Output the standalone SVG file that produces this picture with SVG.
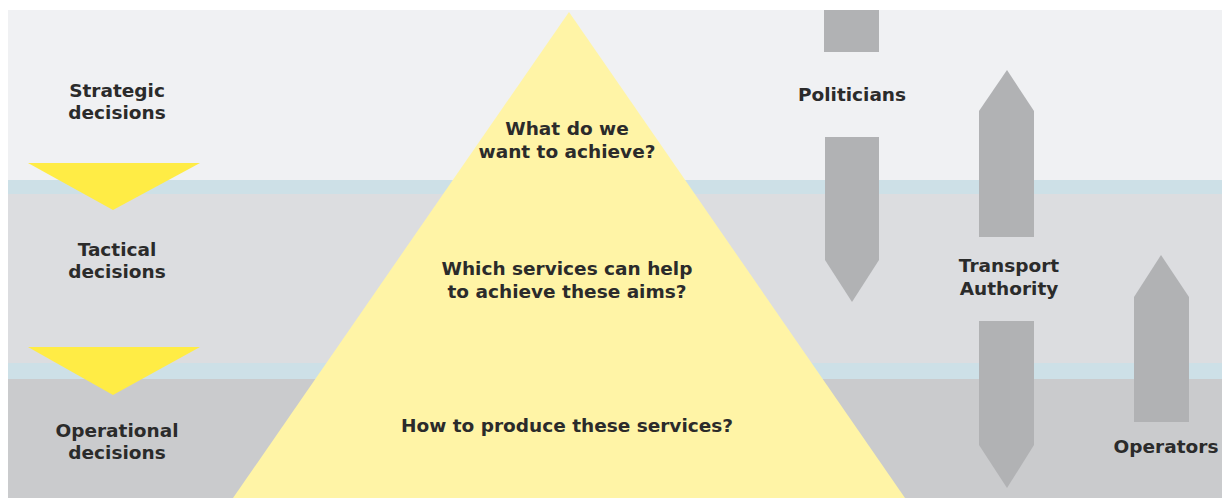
<svg xmlns="http://www.w3.org/2000/svg" width="1223" height="498" viewBox="0 0 1223 498">
<style>
.t{font-family:"DejaVu Sans","Verdana",sans-serif;font-weight:bold;font-size:18.5px;fill:#2b2b2b;text-anchor:middle}
.arr{fill:#b1b2b4}
.tri{fill:#ffec45}
</style>
<rect x="0" y="0" width="1223" height="498" fill="#ffffff"/>
<g id="bands">
<rect x="8" y="10" width="1214" height="171" fill="#f0f1f3"/>
<rect x="8" y="180" width="1214" height="15" fill="#cde0e7"/>
<rect x="8" y="194" width="1214" height="170" fill="#dcdde0"/>
<rect x="8" y="363" width="1214" height="17" fill="#cde0e7"/>
<rect x="8" y="379" width="1214" height="119" fill="#cacbcd"/>
</g>
<g id="pyramid">
<polygon points="569,12 905,498 233,498" fill="#fff4a6"/>
<text class="t" x="567" y="135">What do we</text>
<text class="t" x="567" y="158">want to achieve?</text>
<text class="t" x="567" y="275">Which services can help</text>
<text class="t" x="567" y="298">to achieve these aims?</text>
<text class="t" x="567" y="432">How to produce these services?</text>
</g>
<g id="levels">
<text class="t" x="117" y="97">Strategic</text>
<text class="t" x="117" y="119">decisions</text>
<text class="t" x="117" y="256">Tactical</text>
<text class="t" x="117" y="278">decisions</text>
<text class="t" x="117" y="437">Operational</text>
<text class="t" x="117" y="459">decisions</text>
</g>
<g id="connectors">
<polygon class="tri" points="28,163 200,163 113,210"/>
<polygon class="tri" points="28,347 200,347 113,395"/>
<rect class="arr" x="824" y="10" width="55" height="42"/>
<polygon class="arr" points="825,137 879,137 879,260 852,302 825,260"/>
<polygon class="arr" points="979,237 1034,237 1034,111 1007,70 979,111"/>
<polygon class="arr" points="979,321 1034,321 1034,445 1007,488 979,445"/>
<polygon class="arr" points="1134,422 1189,422 1189,297 1161,255 1134,297"/>
</g>
<g id="actors">
<text class="t" x="852" y="101">Politicians</text>
<text class="t" x="1009" y="272">Transport</text>
<text class="t" x="1009" y="295">Authority</text>
<text class="t" x="1166" y="453">Operators</text>
</g>
</svg>
